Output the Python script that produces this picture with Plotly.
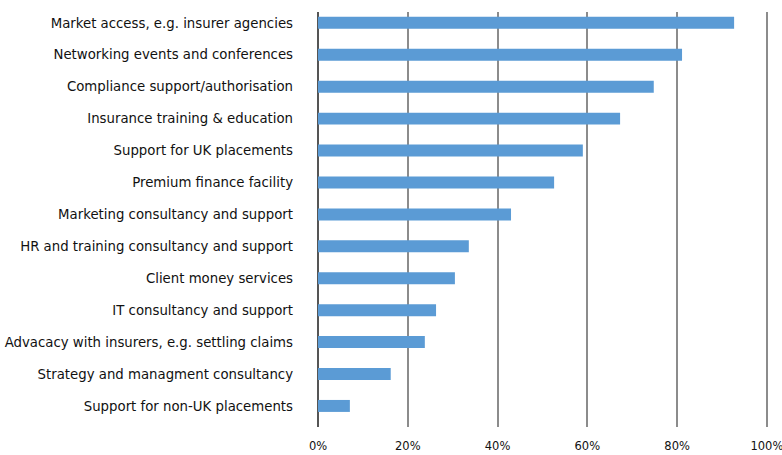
import plotly.graph_objects as go

# Services, listed top to bottom, with share of respondents (%)
services = [
    "Market access, e.g. insurer agencies",
    "Networking events and conferences",
    "Compliance support/authorisation",
    "Insurance training & education",
    "Support for UK placements",
    "Premium finance facility",
    "Marketing consultancy and support",
    "HR and training consultancy and support",
    "Client money services",
    "IT consultancy and support",
    "Advacacy with insurers, e.g. settling claims",
    "Strategy and managment consultancy",
    "Support for non-UK placements",
]
shares = [92.7, 81.1, 74.8, 67.3, 59.0, 52.6, 43.0, 33.6, 30.5, 26.3, 23.8, 16.2, 7.1]

x_ticks = [0, 20, 40, 60, 80, 100]
x_tick_labels = ["0%", "20%", "40%", "60%", "80%", "100%"]

fig = go.Figure(
    go.Bar(
        x=shares,
        y=services,
        orientation="h",
        marker=dict(color="#5b9bd5", line=dict(width=0)),
        hoverinfo="x+y",
    )
)

fig.update_layout(
    width=782,
    height=455,
    margin=dict(l=318, r=14, t=12, b=28),
    plot_bgcolor="white",
    paper_bgcolor="white",
    bargap=0.625,
    showlegend=False,
    font=dict(family="DejaVu Sans", color="#111111"),
)

fig.update_xaxes(
    range=[0, 100.25],
    tickvals=x_ticks,
    ticktext=x_tick_labels,
    showgrid=True,
    gridcolor="#8c8c8c",
    gridwidth=1.5,
    zeroline=True,
    zerolinecolor="#555555",
    zerolinewidth=1.5,
    showline=False,
    ticks="",
    tickfont=dict(size=11.5, family="DejaVu Sans", color="#111111"),
    ticklabelstandoff=10,
    ticklabeloverflow="allow",
    automargin=False,
    fixedrange=True,
)

fig.update_yaxes(
    categoryorder="array",
    categoryarray=services[::-1],
    range=[-0.66, len(services) - 0.66],
    showgrid=False,
    showline=False,
    ticks="",
    tickfont=dict(size=13.3, family="DejaVu Sans", color="#111111"),
    ticklabelstandoff=24,
    automargin=False,
    fixedrange=True,
)

fig.write_html("out.html")
